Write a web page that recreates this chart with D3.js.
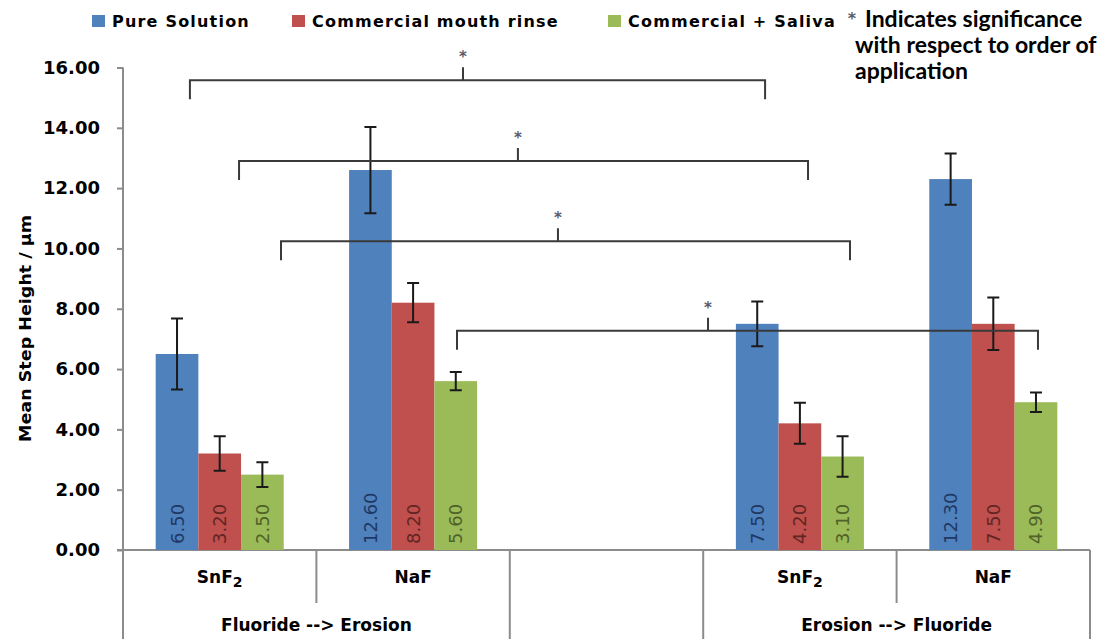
<!DOCTYPE html>
<html>
<head>
<meta charset="utf-8">
<script src="https://cdn.jsdelivr.net/npm/d3@7"></script>
<style>
  body { margin: 0; background: #fff; }
  svg { display: block; }
  .axis text { font-family: "DejaVu Sans", Verdana, sans-serif; font-weight: bold; font-size: 18px; fill: #000; }
  .axis line { stroke: #8c8c8c; stroke-width: 2; }
  .axis path { display: none; }
  .frame { stroke: #8c8c8c; stroke-width: 2; }
  .legend text { font-family: "DejaVu Sans", Verdana, sans-serif; font-weight: bold; font-size: 16px; letter-spacing: 1.2px; }
  .note { font-family: Lato, "Open Sans", sans-serif; font-weight: bold; font-size: 23px; }
  .vlabel { font-family: "DejaVu Sans", Verdana, sans-serif; font-size: 18px; }
  .cat { font-family: "DejaVu Sans", Verdana, sans-serif; font-weight: bold; font-size: 17px; }
  .err { stroke: #1a1a1a; stroke-width: 2; fill: none; }
  .bracket { stroke: #3a3a3a; stroke-width: 2; fill: none; }
  .star { font-family: "DejaVu Sans", sans-serif; font-weight: bold; font-size: 15px; fill: #5a5a6a; }
</style>
</head>
<body>
<svg id="chart" width="1100" height="639"></svg>
<script>
// ---- data ----
var slots = ["F_SnF2", "F_NaF", "gap", "E_SnF2", "E_NaF"];
var slotLabels = ["SnF2", "NaF", "", "SnF2", "NaF"];
var groupLabels = ["Fluoride --> Erosion", "", "Erosion --> Fluoride"];
var groupSpans = [[0, 2], [2, 3], [3, 5]];   // slot index ranges per group

var seriesNames = ["Pure Solution", "Commercial mouth rinse", "Commercial + Saliva"];
var seriesColors = ["#4f81bd", "#c0504d", "#9bbb59"];
var labelColors = ["#1f3864", "#632523", "#4f6228"];

var pureVals   = [6.50, 12.60, null, 7.50, 12.30];
var rinseVals  = [3.20,  8.20, null, 4.20,  7.50];
var salivaVals = [2.50,  5.60, null, 3.10,  4.90];

var pureErr   = [1.18, 1.43, null, 0.74, 0.85];
var rinseErr  = [0.57, 0.65, null, 0.68, 0.87];
var salivaErr = [0.41, 0.30, null, 0.67, 0.32];

var yTicks = [0, 2, 4, 6, 8, 10, 12, 14, 16];

// significance brackets, x in slot units (0..5), y in data units
var bracketFrom = [0.346, 0.600, 0.817, 1.727];
var bracketTo   = [3.320, 3.542, 3.759, 4.731];
var bracketTick = [1.758, 2.042, 2.249, 3.025];
var bracketY    = [15.58, 12.90, 10.24, 7.27];

// ---- layout ----
var plotL = 123, plotR = 1090, plotT = 67.5, plotB = 550, svgB = 639;

var svg = d3.select("#chart");

var x0 = d3.scaleBand().domain(slots).range([plotL, plotR]).padding(0);
var x1 = d3.scaleBand().domain(seriesNames).range([0, x0.bandwidth()]).paddingInner(0).paddingOuter(0.766);
var xs = d3.scaleLinear().domain([0, slots.length]).range([plotL, plotR]);
var y = d3.scaleLinear().domain([0, 16]).range([plotB, plotT]);

var allVals = [pureVals, rinseVals, salivaVals];
var allErr = [pureErr, rinseErr, salivaErr];

var bars = [];
seriesNames.forEach(function(s, si){
  slots.forEach(function(c, ci){
    if (allVals[si][ci] == null) return;
    bars.push({slot: c, series: s, si: si, v: allVals[si][ci], e: allErr[si][ci]});
  });
});

// y axis
var yAxis = d3.axisLeft(y).tickValues(yTicks).tickFormat(d3.format(".2f"))
  .tickSize(6).tickPadding(17);
svg.append("g").attr("class", "axis")
  .attr("transform", "translate(" + plotL + ",0)")
  .call(yAxis);

// axis lines and category dividers
svg.append("line").attr("class", "frame")
  .attr("x1", plotL).attr("x2", plotL).attr("y1", y(16)).attr("y2", svgB);
svg.append("line").attr("class", "frame")
  .attr("x1", plotL - 6).attr("x2", plotR).attr("y1", plotB).attr("y2", plotB);
var groupEdges = groupSpans.map(function(g){ return g[1]; });
d3.range(1, slots.length + 1).forEach(function(i){
  var full = groupEdges.indexOf(i) >= 0;
  svg.append("line").attr("class", "frame")
    .attr("x1", xs(i)).attr("x2", xs(i))
    .attr("y1", plotB).attr("y2", full ? svgB : 603);
});

// bars
var barG = svg.append("g");
barG.selectAll("rect").data(bars).enter().append("rect")
  .attr("x", function(d){ return x0(d.slot) + x1(d.series); })
  .attr("y", function(d){ return y(d.v); })
  .attr("width", x1.bandwidth())
  .attr("height", function(d){ return y(0) - y(d.v); })
  .attr("fill", function(d){ return seriesColors[d.si]; });

// value labels (rotated)
barG.selectAll("text").data(bars).enter().append("text")
  .attr("class", "vlabel")
  .attr("transform", function(d){
    var cx = x0(d.slot) + x1(d.series) + x1.bandwidth() / 2;
    return "translate(" + cx + "," + (y(0) - 6) + ") rotate(-90)";
  })
  .attr("dy", "0.36em")
  .attr("fill", function(d){ return labelColors[d.si]; })
  .text(function(d){ return d3.format(".2f")(d.v); });

// error bars
var errG = svg.append("g");
bars.forEach(function(d){
  var cx = x0(d.slot) + x1(d.series) + x1.bandwidth() / 2;
  var y1 = y(d.v + d.e), y2 = y(d.v - d.e), w = 6;
  errG.append("path").attr("class", "err")
    .attr("d", "M" + cx + "," + y1 + "V" + y2 +
               "M" + (cx - w) + "," + y1 + "H" + (cx + w) +
               "M" + (cx - w) + "," + y2 + "H" + (cx + w));
});

// significance brackets
var brG = svg.append("g");
bracketY.forEach(function(v, i){
  var yy = y(v), xa = xs(bracketFrom[i]), xb = xs(bracketTo[i]), xt = xs(bracketTick[i]);
  brG.append("path").attr("class", "bracket")
    .attr("d", "M" + xa + "," + (yy + 19) + "V" + yy + "H" + xb + "V" + (yy + 19) +
               "M" + xt + "," + yy + "V" + (yy - 13));
  brG.append("text").attr("class", "star")
    .attr("x", xt).attr("y", yy - 13 - 5)
    .attr("text-anchor", "middle")
    .text("*");
});

// category labels
var catG = svg.append("g");
slots.forEach(function(c, i){
  var lab = slotLabels[i];
  if (!lab) return;
  var t = catG.append("text").attr("class", "cat")
    .attr("x", x0(c) + x0.bandwidth() / 2).attr("y", 583)
    .attr("text-anchor", "middle");
  if (lab === "SnF2") {
    t.append("tspan").text("SnF");
    t.append("tspan").attr("dy", 4).attr("font-size", "14px").text("2");
  } else {
    t.text(lab);
  }
});
groupSpans.forEach(function(g, i){
  if (!groupLabels[i]) return;
  catG.append("text").attr("class", "cat")
    .attr("x", (xs(g[0]) + xs(g[1])) / 2).attr("y", 631)
    .attr("text-anchor", "middle")
    .text(groupLabels[i]);
});

// y axis title
svg.append("text")
  .attr("transform", "translate(25," + ((215 + 442) / 2) + ") rotate(-90)")
  .attr("text-anchor", "middle").attr("dy", "0.36em")
  .attr("font-family", "'DejaVu Sans Condensed', 'DejaVu Sans', sans-serif")
  .attr("font-weight", "bold").attr("font-size", "16px")
  .attr("textLength", 227).attr("lengthAdjust", "spacingAndGlyphs")
  .text("Mean Step Height / \u00b5m");

// legend
var legX = [92, 292, 608];
var leg = svg.append("g").attr("class", "legend");
seriesNames.forEach(function(s, i){
  leg.append("rect").attr("x", legX[i]).attr("y", 15).attr("width", 13).attr("height", 12)
    .attr("fill", seriesColors[i]);
  leg.append("text").attr("x", legX[i] + 20).attr("y", 27).text(s);
});
leg.append("text").attr("class", "star").attr("x", 852).attr("y", 24)
  .attr("text-anchor", "middle").style("letter-spacing", "0").text("*");
var note = svg.append("text").attr("class", "note").attr("x", 865).attr("y", 27);
note.append("tspan").text("Indicates significance");
note.append("tspan").attr("x", 855).attr("y", 53).text("with respect to order of");
note.append("tspan").attr("x", 855).attr("y", 79).text("application");
</script>
</body>
</html>
